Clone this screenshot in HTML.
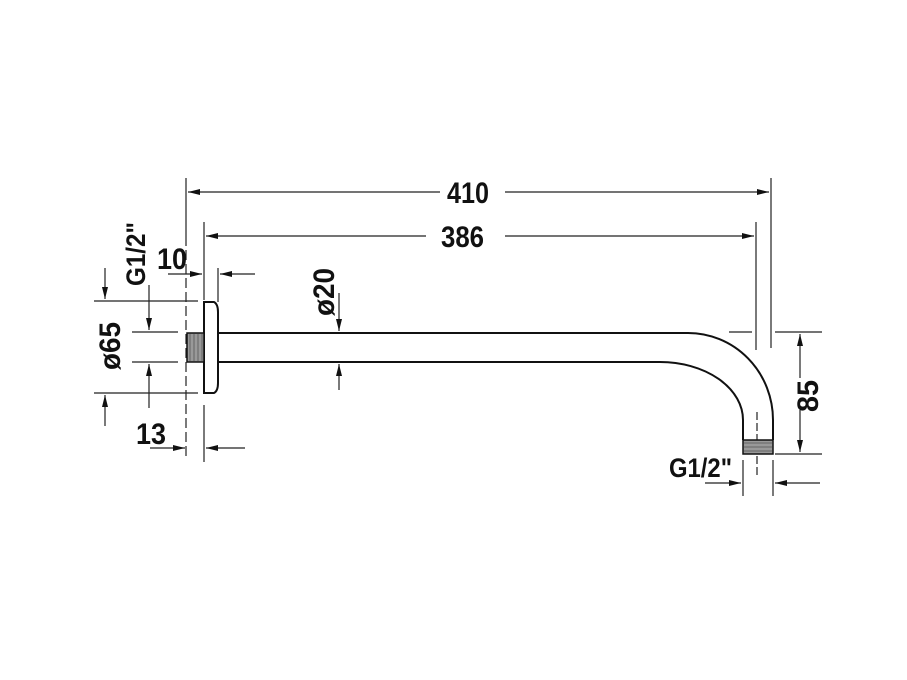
<!DOCTYPE html>
<html><head><meta charset="utf-8"><style>html,body{margin:0;padding:0;background:#fff}svg{display:block}text{font-family:"Liberation Sans",sans-serif;font-weight:bold;fill:#111}</style></head>
<body>
<svg width="907" height="680" viewBox="0 0 907 680" xmlns="http://www.w3.org/2000/svg">
<defs>
<marker id="a" markerWidth="12" markerHeight="6" refX="12" refY="3" orient="auto" markerUnits="userSpaceOnUse"><path d="M0,0 L12,3 L0,6 z" fill="#111"/></marker>
</defs>
<g stroke="#222" stroke-width="1.2" fill="none">
<line x1="186" y1="178" x2="186" y2="236"/>
<line x1="186" y1="236" x2="186" y2="460" stroke-dasharray="10,4"/>
<line x1="771" y1="178" x2="771" y2="348"/>
<line x1="440" y1="192" x2="188" y2="192" marker-end="url(#a)"/>
<line x1="505" y1="192" x2="769" y2="192" marker-end="url(#a)"/>
<line x1="204" y1="222" x2="204" y2="300"/>
<line x1="756" y1="222" x2="756" y2="350"/>
<line x1="426" y1="236" x2="206" y2="236" marker-end="url(#a)"/>
<line x1="505" y1="236" x2="754" y2="236" marker-end="url(#a)"/>
<line x1="218" y1="268" x2="218" y2="302"/>
<line x1="168" y1="274" x2="202" y2="274" marker-end="url(#a)"/>
<line x1="255" y1="274" x2="220" y2="274" marker-end="url(#a)"/>
<line x1="94" y1="301" x2="198" y2="301"/>
<line x1="94" y1="393" x2="198" y2="393"/>
<line x1="105" y1="268" x2="105" y2="299" marker-end="url(#a)"/>
<line x1="105" y1="426" x2="105" y2="395" marker-end="url(#a)"/>
<line x1="132" y1="332" x2="178" y2="332"/>
<line x1="132" y1="362" x2="178" y2="362"/>
<line x1="149" y1="285" x2="149" y2="330" marker-end="url(#a)"/>
<line x1="149" y1="408" x2="149" y2="364" marker-end="url(#a)"/>
<line x1="204" y1="405" x2="204" y2="462"/>
<line x1="150" y1="448" x2="185" y2="448" marker-end="url(#a)"/>
<line x1="245" y1="448" x2="206" y2="448" marker-end="url(#a)"/>
<line x1="339" y1="293" x2="339" y2="331" marker-end="url(#a)"/>
<line x1="339" y1="390" x2="339" y2="364" marker-end="url(#a)"/>
<line x1="729" y1="332" x2="752" y2="332"/>
<line x1="775" y1="332" x2="822" y2="332"/>
<line x1="775" y1="454" x2="822" y2="454"/>
<line x1="800" y1="378" x2="800" y2="334" marker-end="url(#a)"/>
<line x1="800" y1="410" x2="800" y2="452" marker-end="url(#a)"/>
<line x1="757" y1="412" x2="757" y2="478" stroke-dasharray="8,3"/>
<line x1="743" y1="460" x2="743" y2="496"/>
<line x1="773" y1="460" x2="773" y2="496"/>
<line x1="705" y1="483" x2="741" y2="483" marker-end="url(#a)"/>
<line x1="820" y1="483" x2="775" y2="483" marker-end="url(#a)"/>
</g>
<g stroke="#111" stroke-width="2" fill="none">
<path d="M204,302 L214,302 Q218,304 218,312 L218,383 Q218,391 214,393 L204,393 Z" fill="#fff"/>
<rect x="187" y="333" width="17" height="29" fill="#999" stroke-width="1.5"/>
<path d="M218,333 L688,333 A85,87 0 0 1 773,420 L773,440"/>
<path d="M218,362 L660,362 A83,58 0 0 1 743,420 L743,440"/>
<rect x="743" y="440" width="30" height="14" fill="#999" stroke-width="1.5"/>
</g>
<g stroke="#555" stroke-width="0.8">
<line x1="190" y1="334" x2="190" y2="361"/><line x1="194" y1="334" x2="194" y2="361"/><line x1="198" y1="334" x2="198" y2="361"/><line x1="202" y1="334" x2="202" y2="361"/>
<line x1="744" y1="443" x2="772" y2="443"/><line x1="744" y1="447" x2="772" y2="447"/><line x1="744" y1="451" x2="772" y2="451"/>
</g>
<g font-size="30">
<text x="447" y="203" textLength="42" lengthAdjust="spacingAndGlyphs">410</text>
<text x="441" y="247" textLength="43" lengthAdjust="spacingAndGlyphs">386</text>
<text x="157" y="269" textLength="30" lengthAdjust="spacingAndGlyphs">10</text>
<text x="136" y="444" textLength="30" lengthAdjust="spacingAndGlyphs">13</text>
<text x="669" y="477" font-size="27" textLength="63" lengthAdjust="spacingAndGlyphs">G1/2"</text>
<text transform="translate(818,412) rotate(-90)" textLength="32" lengthAdjust="spacingAndGlyphs">85</text>
<text transform="translate(120,370) rotate(-90)" textLength="48" lengthAdjust="spacingAndGlyphs">ø65</text>
<text transform="translate(334,316) rotate(-90)" textLength="48" lengthAdjust="spacingAndGlyphs">ø20</text>
<text transform="translate(145,286) rotate(-90)" font-size="27" textLength="64" lengthAdjust="spacingAndGlyphs">G1/2"</text>
</g>
</svg>
</body></html>
